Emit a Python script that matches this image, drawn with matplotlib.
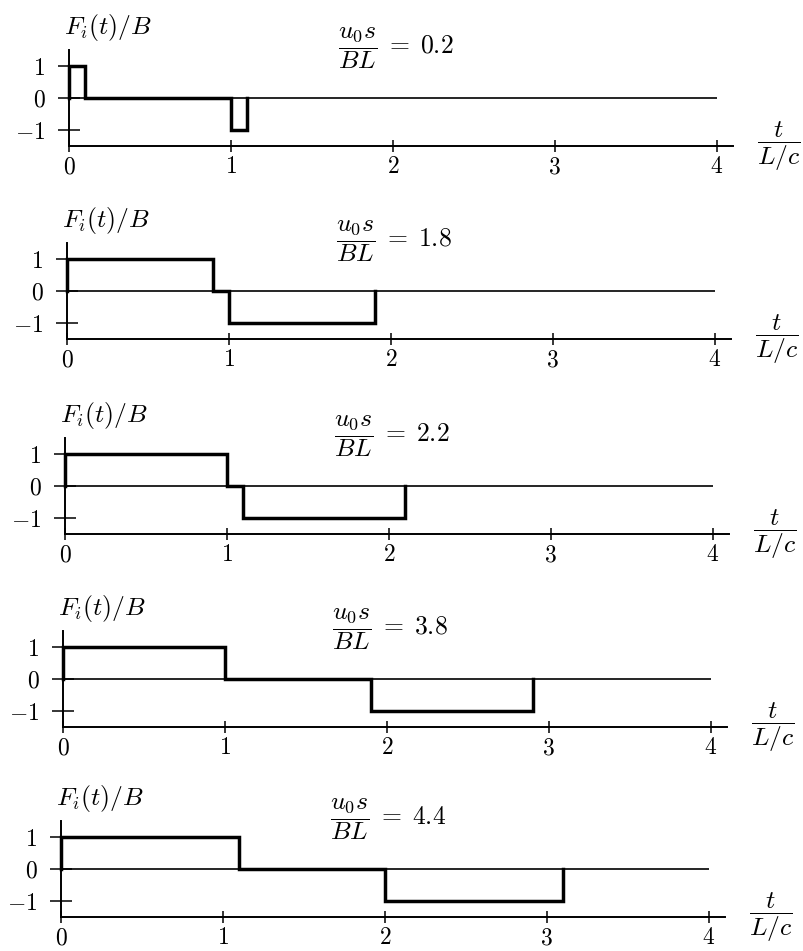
import numpy as np
import matplotlib
matplotlib.use("Agg")
import matplotlib.pyplot as plt

plt.rcParams["mathtext.fontset"] = "cm"
plt.rcParams["font.family"] = "serif"

# u0*s/(B*L) for each panel, and the switching times (in units of L/c)
ratios = [0.2, 1.8, 2.2, 3.8, 4.4]
switch_times = [
    [0.0, 0.1, 1.0, 1.1],
    [0.0, 0.9, 1.0, 1.9],
    [0.0, 1.0, 1.1, 2.1],
    [0.0, 1.0, 1.9, 2.9],
    [0.0, 1.1, 2.0, 3.1],
]
levels = [1, 0, -1, 0]     # F_i/B after each switch
xticks = [0, 1, 2, 3, 4]
yticks = [-1, 0, 1]
t_end = 4.0

W, H = 804, 951
FS_TICK = 17
FS_LAB = 18.5
fig = plt.figure(figsize=(W / 100, H / 100), dpi=100)

# panel frames in pixels: left edge (t=0), bottom edge (F=-1.5)
left_px = [69, 67, 65, 63, 61]
bottom_px = [146, 339, 534, 727, 917]
w_px, h_px = 664, 96

for i, (r, ts) in enumerate(zip(ratios, switch_times)):
    ax = fig.add_axes([left_px[i] / W, 1 - bottom_px[i] / H, w_px / W, h_px / H])
    ax.set_xlim(0, 4.1)
    ax.set_ylim(-1.5, 1.5)
    ax.patch.set_alpha(0)
    for s in ("top", "right"):
        ax.spines[s].set_visible(False)
    for s in ("left", "bottom"):
        ax.spines[s].set_linewidth(1.4)

    ax.hlines(0, 0, t_end, color="k", lw=1.2, clip_on=False)
    ax.step([0.0] + ts, [0] + levels, where="post", color="k", lw=2.5,
            solid_joinstyle="miter", clip_on=False, zorder=3)

    ax.set_xticks(xticks, [f"${v}$" for v in xticks])
    ax.set_yticks(yticks, [f"${v}$" for v in yticks])
    ax.tick_params(axis="y", direction="inout", length=16, width=1.1, pad=9, labelsize=FS_TICK)
    ax.tick_params(axis="x", direction="inout", length=9, width=1.1, pad=2, labelsize=FS_TICK)

    ax.text(-0.03, 2.2, r"$F_i(t)/B$", ha="left", va="center", fontsize=FS_LAB)
    ax.text(1.66, 1.55, rf"$\dfrac{{u_0 s}}{{BL}} \;=\; {r}$", ha="left", va="center",
            fontsize=FS_LAB)
    ax.text(4.25, -1.5, r"$\dfrac{t}{L/c}$", ha="left", va="center", fontsize=FS_LAB)

fig.savefig("out.png", dpi=100)
plt.close(fig)
